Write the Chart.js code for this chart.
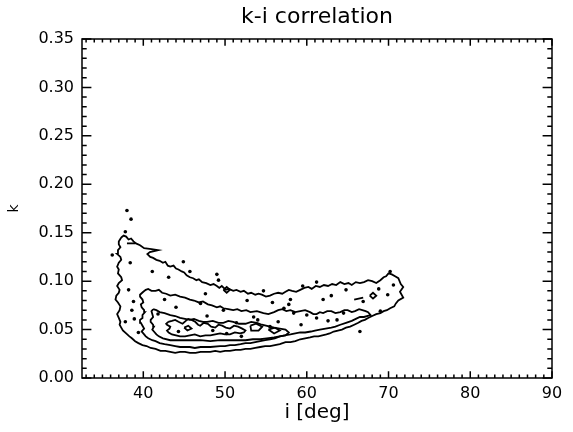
<!DOCTYPE html>
<html><head><meta charset="utf-8">
<script src="https://cdn.jsdelivr.net/npm/chart.js@4/dist/chart.umd.min.js"></script>
<style>html,body{margin:0;padding:0;background:#fff;}</style>
</head><body>
<canvas id="c" width="573" height="432"></canvas>
<script>
// ---- text ----
const titleText = 'k-i correlation';
const xTitle = 'i [deg]';
const yTitle = 'k';
// ---- axes ----
const xRange = [32.5, 90];
const yRange = [0, 0.35];
const xTicks = [40, 50, 60, 70, 80, 90];
const yTicks = [0.00, 0.05, 0.10, 0.15, 0.20, 0.25, 0.30, 0.35];
const xMinorStep = 1;
const yMinorStep = 0.01;
// ---- contour paths [i, k] ----
const level1 = [[37.3,0.145],[37.6,0.147],[37.9,0.146],[38.2,0.143],[38.5,0.144],[38.8,0.141],[39.1,0.139],[39.6,0.137],[40.1,0.134],[41.0,0.133],[41.8,0.132],[40.8,0.130],[40.5,0.128],[40.85,0.125],[41.2,0.124],[41.6,0.122],[42.0,0.121],[42.4,0.119],[42.7,0.120],[43.0,0.116],[43.3,0.115],[43.7,0.116],[44.0,0.113],[44.3,0.112],[44.7,0.110],[45.0,0.109],[45.3,0.106],[45.7,0.104],[46.1,0.103],[46.5,0.101],[46.8,0.102],[47.2,0.099],[47.7,0.098],[48.2,0.096],[48.6,0.097],[49.0,0.095],[49.3,0.093],[49.6,0.095],[50.1,0.091],[50.5,0.092],[51.0,0.090],[51.4,0.091],[51.9,0.089],[52.3,0.090],[52.8,0.087],[53.2,0.088],[53.7,0.086],[54.1,0.087],[54.5,0.086],[55.0,0.084],[55.5,0.085],[56.0,0.087],[56.5,0.088],[57.0,0.087],[57.4,0.089],[57.8,0.091],[58.2,0.090],[58.7,0.089],[59.2,0.091],[59.7,0.093],[60.2,0.094],[60.6,0.092],[61.1,0.095],[61.6,0.094],[62.1,0.096],[62.6,0.095],[63.1,0.097],[63.6,0.096],[64.1,0.099],[64.6,0.097],[65.1,0.098],[65.5,0.096],[66.0,0.099],[66.5,0.098],[67.0,0.099],[67.5,0.101],[68.0,0.100],[68.5,0.098],[69.0,0.101],[69.4,0.104],[69.7,0.105],[70.0,0.108],[70.4,0.107],[70.8,0.105],[71.2,0.103],[71.5,0.097],[71.8,0.094],[71.4,0.089],[71.8,0.083],[71.2,0.080],[70.9,0.077],[70.7,0.074],[70.2,0.072],[69.8,0.070],[69.4,0.069],[69.0,0.067],[68.5,0.066],[68.0,0.064],[67.5,0.062],[67.1,0.060],[66.7,0.059],[66.3,0.057],[65.8,0.055],[65.3,0.053],[64.8,0.052],[64.3,0.050],[63.8,0.049],[63.3,0.048],[62.8,0.046],[62.4,0.045],[61.9,0.044],[61.4,0.043],[60.9,0.043],[60.4,0.042],[59.8,0.041],[59.2,0.040],[58.6,0.038],[58.0,0.037],[57.4,0.037],[56.7,0.035],[56.1,0.034],[55.5,0.033],[54.9,0.033],[54.3,0.032],[53.7,0.031],[53.1,0.030],[52.5,0.030],[51.9,0.029],[51.3,0.029],[50.6,0.028],[50.0,0.028],[49.4,0.027],[48.8,0.028],[48.2,0.027],[47.6,0.027],[47.0,0.027],[46.4,0.026],[45.7,0.026],[45.1,0.027],[44.5,0.027],[43.9,0.026],[43.3,0.027],[42.7,0.028],[42.1,0.028],[41.5,0.030],[40.9,0.031],[40.4,0.033],[39.9,0.034],[39.4,0.036],[39.0,0.038],[38.6,0.041],[38.3,0.043],[37.9,0.046],[37.5,0.049],[37.3,0.052],[37.1,0.055],[37.2,0.058],[37.0,0.062],[36.8,0.066],[37.1,0.070],[37.2,0.074],[36.9,0.078],[36.6,0.081],[36.7,0.085],[37.0,0.088],[37.1,0.091],[36.8,0.095],[37.0,0.098],[37.4,0.101],[37.3,0.104],[36.9,0.108],[37.0,0.112],[36.8,0.115],[37.0,0.119],[37.3,0.122],[37.2,0.125],[36.8,0.128],[36.9,0.132],[37.2,0.135],[37.0,0.138],[37.0,0.141],[37.3,0.145]];
const level2 = [[40.0,0.089],[40.3,0.091],[40.6,0.092],[41.0,0.090],[41.5,0.090],[41.9,0.091],[42.3,0.088],[42.8,0.087],[43.3,0.085],[43.9,0.086],[44.5,0.084],[45.1,0.083],[45.7,0.081],[46.2,0.080],[46.8,0.078],[47.3,0.079],[47.9,0.076],[48.4,0.075],[49.0,0.073],[49.4,0.074],[49.8,0.072],[50.4,0.071],[51.0,0.070],[51.5,0.071],[52.0,0.069],[52.6,0.070],[53.1,0.068],[53.9,0.069],[54.7,0.067],[55.3,0.066],[56.0,0.068],[56.5,0.070],[57.0,0.071],[57.5,0.069],[58.0,0.070],[58.6,0.068],[59.2,0.069],[59.8,0.070],[60.4,0.068],[60.8,0.066],[61.2,0.066],[61.6,0.068],[62.0,0.067],[62.5,0.069],[63.0,0.069],[63.5,0.067],[64.1,0.068],[64.6,0.070],[65.0,0.070],[65.5,0.068],[65.9,0.069],[66.4,0.071],[66.8,0.070],[67.2,0.069],[67.5,0.068],[67.8,0.065],[67.0,0.063],[66.5,0.063],[66.0,0.061],[65.5,0.059],[64.8,0.057],[64.1,0.055],[63.5,0.053],[63.0,0.052],[62.3,0.051],[61.6,0.050],[61.0,0.049],[60.5,0.048],[59.8,0.047],[59.2,0.047],[58.6,0.046],[58.0,0.045],[57.3,0.044],[56.7,0.043],[56.1,0.041],[55.5,0.040],[54.9,0.039],[54.3,0.038],[53.7,0.037],[53.1,0.036],[52.5,0.036],[51.9,0.035],[51.2,0.034],[50.6,0.034],[50.0,0.033],[49.4,0.033],[48.2,0.032],[47.0,0.032],[46.3,0.031],[45.7,0.032],[45.1,0.032],[44.5,0.032],[43.9,0.033],[43.3,0.034],[42.6,0.035],[42.0,0.036],[41.5,0.038],[41.1,0.039],[40.6,0.041],[40.3,0.043],[40.0,0.046],[39.8,0.048],[40.1,0.051],[39.9,0.054],[39.7,0.057],[39.6,0.060],[39.9,0.062],[39.9,0.065],[40.2,0.068],[40.1,0.070],[39.8,0.073],[39.7,0.076],[40.0,0.078],[39.9,0.081],[39.6,0.084],[39.6,0.086],[40.0,0.089]];
const level3 = [[41.2,0.071],[41.6,0.070],[42.0,0.068],[42.6,0.067],[43.3,0.065],[43.9,0.064],[44.5,0.062],[45.1,0.061],[45.7,0.060],[46.2,0.061],[46.8,0.059],[47.3,0.058],[47.8,0.058],[48.5,0.059],[49.2,0.057],[49.8,0.057],[50.4,0.059],[51.0,0.058],[51.7,0.056],[52.5,0.056],[53.2,0.058],[53.9,0.057],[54.5,0.055],[55.0,0.054],[55.5,0.053],[56.0,0.052],[56.7,0.051],[57.4,0.050],[57.8,0.047],[57.4,0.044],[56.7,0.043],[56.0,0.042],[55.1,0.041],[54.3,0.040],[53.4,0.040],[52.5,0.039],[51.5,0.039],[50.6,0.039],[49.4,0.039],[48.2,0.038],[47.0,0.039],[46.0,0.039],[45.0,0.039],[44.1,0.039],[43.3,0.039],[42.4,0.041],[41.9,0.043],[41.6,0.045],[41.3,0.048],[41.1,0.050],[41.3,0.053],[41.2,0.055],[40.9,0.058],[40.9,0.060],[41.2,0.063],[41.1,0.066],[41.0,0.069],[41.2,0.071]];
const level4 = [[43.05,0.058],[43.5,0.059],[43.9,0.060],[44.3,0.058],[44.8,0.056],[45.2,0.059],[45.5,0.061],[45.9,0.060],[46.35,0.058],[46.7,0.055],[46.96,0.054],[47.4,0.057],[47.9,0.056],[48.3,0.053],[48.8,0.052],[49.2,0.055],[49.65,0.054],[50.1,0.052],[50.6,0.051],[51.1,0.054],[51.6,0.053],[52.1,0.051],[52.5,0.049],[52.3,0.047],[51.85,0.046],[51.2,0.047],[50.6,0.045],[50.0,0.045],[49.4,0.046],[48.8,0.045],[48.2,0.044],[47.6,0.044],[46.96,0.043],[46.3,0.045],[45.7,0.044],[45.1,0.043],[44.5,0.043],[44.0,0.044],[43.5,0.045],[43.1,0.047],[42.9,0.049],[43.2,0.051],[43.3,0.053],[42.9,0.055],[42.8,0.056],[43.05,0.058]];
const level4b = [[53.1,0.054],[53.8,0.056],[54.55,0.053],[54.1,0.049],[53.2,0.049],[53.1,0.054]];
const level4c = [[55.3,0.050],[56.1,0.052],[56.7,0.049],[56.0,0.046],[55.3,0.050]];
const ringA = [[49.8,0.091],[50.2,0.094],[50.6,0.091],[50.2,0.088],[49.8,0.091]];
const ringB = [[67.7,0.085],[68.1,0.088],[68.5,0.085],[68.1,0.082],[67.7,0.085]];
const ringC = [[45.0,0.052],[45.5,0.054],[45.9,0.051],[45.4,0.049],[45.0,0.052]];
const dashA = [[38.0,0.139],[39.0,0.139]];
const dashB = [[65.8,0.081],[66.9,0.083]];
const islands = [[38.0,0.173],[38.5,0.164],[37.8,0.151],[36.2,0.127],[38.4,0.119],[44.9,0.120],[45.7,0.110],[49.0,0.107],[49.2,0.101],[54.7,0.090],[58.0,0.081],[59.5,0.095],[61.2,0.099],[62.0,0.081],[57.2,0.072],[38.8,0.079],[38.6,0.070],[37.8,0.058],[38.9,0.061],[41.8,0.066],[47.0,0.077],[47.8,0.064],[49.8,0.070],[50.2,0.046],[51.4,0.057],[54.0,0.060],[55.5,0.053],[58.4,0.067],[60.0,0.065],[70.2,0.110],[66.9,0.079],[64.5,0.067],[63.7,0.060],[69.0,0.069],[66.5,0.048],[61.2,0.062],[39.4,0.047],[38.2,0.091],[42.6,0.081],[44.0,0.073],[52.7,0.080],[55.8,0.078],[63.0,0.085],[64.8,0.091],[68.8,0.092],[69.9,0.086],[41.1,0.110],[43.1,0.104],[47.6,0.087],[53.5,0.063],[56.5,0.058],[59.3,0.055],[62.6,0.059],[48.5,0.049],[44.3,0.048],[52.0,0.043],[57.8,0.076],[70.6,0.096]];

const toPts = a => a.map(([x, y]) => ({x, y}));
const lineDs = a => ({data: toPts(a), showLine: true, pointRadius: 0, borderColor: '#000', borderWidth: 1.8, fill: false, tension: 0});

const xMinor = [], yMinor = [];
for (let v = Math.ceil(xRange[0]); v < xRange[1]; v += xMinorStep) if (!xTicks.includes(v)) xMinor.push(v);
for (let n = 1; n * yMinorStep < yRange[1] - 1e-9; n++) { const v = +(n * yMinorStep).toFixed(2); if (!yTicks.some(t => Math.abs(t - v) < 1e-9)) yMinor.push(v); }

const frame = {
  id: 'frame',
  afterDraw(chart) {
    const {ctx, chartArea: a, scales: {x, y}} = chart;
    ctx.save();
    ctx.strokeStyle = '#000';
    ctx.lineWidth = 1.5;
    ctx.strokeRect(a.left, a.top, a.right - a.left, a.bottom - a.top);
    const xMaj = 0.02 * (a.bottom - a.top), yMaj = 0.02 * (a.right - a.left);
    ctx.beginPath();
    const xt = (v, len) => { const p = x.getPixelForValue(v); ctx.moveTo(p, a.bottom); ctx.lineTo(p, a.bottom - len); ctx.moveTo(p, a.top); ctx.lineTo(p, a.top + len); };
    const yt = (v, len) => { const p = y.getPixelForValue(v); ctx.moveTo(a.left, p); ctx.lineTo(a.left + len, p); ctx.moveTo(a.right, p); ctx.lineTo(a.right - len, p); };
    xTicks.forEach(v => xt(v, xMaj)); xMinor.forEach(v => xt(v, xMaj / 2));
    yTicks.forEach(v => yt(v, yMaj)); yMinor.forEach(v => yt(v, yMaj / 2));
    ctx.stroke();
    ctx.restore();
  }
};

const FONT = 'DejaVu Sans';
new Chart(document.getElementById('c'), {
  type: 'scatter',
  data: {
    datasets: [
      lineDs(level1), lineDs(level2), lineDs(level3), lineDs(level4), lineDs(level4b), lineDs(level4c),
      lineDs(ringA), lineDs(ringB), lineDs(ringC), lineDs(dashA), lineDs(dashB),
      {data: toPts(islands), showLine: false, pointRadius: 1.8, pointBackgroundColor: '#000', pointBorderWidth: 0}
    ]
  },
  options: {
    responsive: false,
    animation: false,
    devicePixelRatio: 1,
    layout: {padding: {left: 0, right: 21, top: 0, bottom: 0}},
    plugins: {
      legend: {display: false},
      tooltip: {enabled: false},
      title: {display: true, fullSize: false, text: titleText, color: '#000', font: {family: FONT, size: 22, weight: 'normal'}, padding: {top: 4, bottom: 8.6}}
    },
    scales: {
      x: {
        type: 'linear', min: xRange[0], max: xRange[1],
        afterBuildTicks: s => { s.ticks = xTicks.map(v => ({value: v})); },
        afterFit: s => { s.height = 54; },
        ticks: {color: '#000', font: {family: FONT, size: 16}, padding: 6, maxRotation: 0, autoSkip: false, callback: v => String(v)},
        grid: {display: false, drawTicks: false},
        border: {display: false},
        title: {display: true, text: xTitle, color: '#000', font: {family: FONT, size: 20}, padding: {top: 0, bottom: 7}}
      },
      y: {
        type: 'linear', min: yRange[0], max: yRange[1],
        afterBuildTicks: s => { s.ticks = yTicks.map(v => ({value: v})); },
        afterFit: s => { s.width = 82; },
        ticks: {color: '#000', font: {family: FONT, size: 16}, padding: 8, autoSkip: false, callback: v => Number(v).toFixed(2)},
        grid: {display: false, drawTicks: false},
        border: {display: false},
        title: {display: true, text: yTitle, color: '#000', font: {family: FONT, size: 14}, padding: {top: 6, bottom: 0}}
      }
    }
  },
  plugins: [frame]
});
</script>
</body></html>
